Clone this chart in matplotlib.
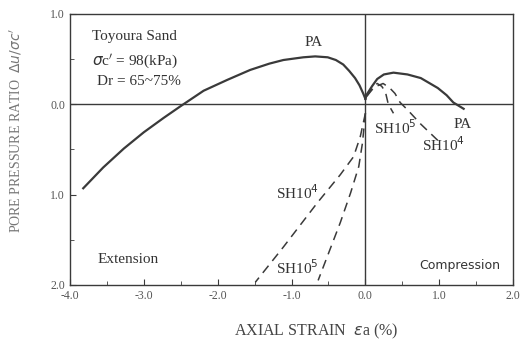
import matplotlib
matplotlib.use("Agg")
import matplotlib.pyplot as plt
from matplotlib.ticker import FuncFormatter, MultipleLocator

# pore pressure ratio du/sc' (positive = downward on the chart)
pa_ext_x = [-3.82, -3.55, -3.27, -3.0, -2.73, -2.5, -2.19, -1.87, -1.56, -1.3, -1.11,
            -0.84, -0.68, -0.51, -0.40, -0.30, -0.22, -0.14, -0.08, -0.03, 0.0]
pa_ext_y = [0.93, 0.70, 0.49, 0.31, 0.15, 0.02, -0.15, -0.27, -0.38, -0.45, -0.49,
            -0.52, -0.53, -0.52, -0.49, -0.44, -0.37, -0.29, -0.21, -0.12, -0.06]

pa_comp_x = [0.0, 0.02, 0.09, 0.16, 0.25, 0.38, 0.57, 0.75, 0.98, 1.10, 1.19, 1.33]
pa_comp_y = [-0.06, -0.11, -0.20, -0.28, -0.33, -0.35, -0.33, -0.29, -0.18, -0.10, -0.02, 0.05]

sh4_comp_x = [0.02, 0.12, 0.24, 0.33, 0.40, 0.47, 0.58, 0.75, 0.98]
sh4_comp_y = [-0.09, -0.19, -0.23, -0.18, -0.12, -0.02, 0.07, 0.22, 0.40]
sh5_comp_x = [0.02, 0.09, 0.16, 0.22, 0.27, 0.31, 0.38]
sh5_comp_y = [-0.09, -0.18, -0.23, -0.20, -0.14, 0.0, 0.10]

sh4_ext_x = [0.0, -0.07, -0.16, -0.34, -0.65, -1.11, -1.49]
sh4_ext_y = [0.10, 0.36, 0.58, 0.78, 1.09, 1.58, 1.97]
sh5_ext_x = [0.0, -0.04, -0.09, -0.20, -0.34, -0.64]
sh5_ext_y = [0.10, 0.43, 0.69, 0.98, 1.31, 1.95]

xticks = [-4.0, -3.0, -2.0, -1.0, 0.0, 1.0, 2.0]
yticks = [-1.0, 0.0, 1.0, 2.0]

ink = "#3a3a3a"
serif = ["Liberation Serif", "DejaVu Serif"]

fig = plt.figure(figsize=(5.22, 3.40), dpi=100)
ax = fig.add_axes([0.134, 0.162, 0.849, 0.797])

ax.plot(pa_ext_x, pa_ext_y, color=ink, lw=1.6, solid_joinstyle="round")
ax.plot(pa_comp_x, pa_comp_y, color=ink, lw=1.6, solid_joinstyle="round")
for xs, ys in [(sh4_comp_x, sh4_comp_y), (sh5_comp_x, sh5_comp_y),
               (sh4_ext_x, sh4_ext_y), (sh5_ext_x, sh5_ext_y)]:
    ax.plot(xs, ys, color=ink, lw=1.1, ls=(0, (6, 4)))

ax.axhline(0, color=ink, lw=1.0)
ax.axvline(0, color=ink, lw=1.0)

ax.set_xlim(-4.0, 2.0)
ax.set_ylim(2.0, -1.0)
ax.set_xticks(xticks)
ax.set_yticks(yticks)
ax.xaxis.set_minor_locator(MultipleLocator(0.5))
ax.yaxis.set_minor_locator(MultipleLocator(0.5))
ax.xaxis.set_major_formatter(FuncFormatter(lambda v, p: "%.1f" % v))
ax.yaxis.set_major_formatter(FuncFormatter(lambda v, p: "%.1f" % abs(v)))
ax.tick_params(which="both", direction="in", color=ink, labelcolor="#555555",
               labelsize=8.5)
ax.tick_params(which="major", length=4)
ax.tick_params(which="minor", length=3)
for lab in ax.get_xticklabels() + ax.get_yticklabels():
    lab.set_family(serif)
for s in ax.spines.values():
    s.set_color(ink)
    s.set_linewidth(1.0)

txt = dict(color="#333333", family=serif, fontsize=11, va="center")
ax.text(-3.70, -0.75, "Toyoura Sand", **txt)
ax.text(-3.70, -0.48, r"$\sigma$c$'$ = 98(kPa)", **txt)
ax.text(-3.64, -0.25, "Dr = 65~75%", **txt)
ax.text(-0.70, -0.68, "PA", ha="center", **txt)
ax.text(1.31, 0.22, "PA", ha="center", **txt)
ax.text(0.11, 0.26, r"SH10$^5$", **txt)
ax.text(0.77, 0.45, r"SH10$^4$", **txt)
ax.text(-1.21, 0.98, r"SH10$^4$", **txt)
ax.text(-1.21, 1.81, r"SH10$^5$", **txt)
ax.text(-3.63, 1.72, "Extension", **txt)
ax.text(1.28, 1.78, "Compression", ha="center", va="center", color="#333333",
        family="DejaVu Sans", fontsize=9)

fig.text(0.605, 0.025, r"AXIAL STRAIN  $\varepsilon$a (%)", ha="center", va="center",
         color="#444444", family=serif, fontsize=11.5)
fig.text(0.03, 0.615, r"PORE PRESSURE RATIO  $\Delta u/\sigma c'$", rotation=90,
         ha="center", va="center", color="#777777", family=serif, fontsize=10)

fig.savefig("out.png", dpi=100)
